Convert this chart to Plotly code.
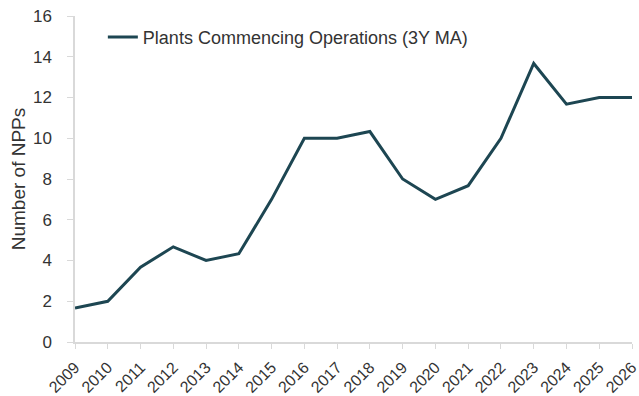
import plotly.graph_objects as go

years = list(range(2009, 2027))
plants_3y_ma = [1.67, 2.0, 3.67, 4.67, 4.0, 4.33, 7.0, 10.0, 10.0, 10.33,
                8.0, 7.0, 7.67, 10.0, 13.67, 11.67, 12.0, 12.0]
y_ticks = [0, 2, 4, 6, 8, 10, 12, 14, 16]

fig = go.Figure()
fig.add_trace(go.Scatter(
    x=years, y=plants_3y_ma, mode="lines",
    name="Plants Commencing Operations (3Y MA)",
    line=dict(color="#1d4652", width=3),
    cliponaxis=False,
))

font_family = "Liberation Sans, Arial, sans-serif"
fig.update_layout(
    width=639, height=396,
    margin=dict(l=75, r=7, t=16, b=54),
    paper_bgcolor="white", plot_bgcolor="white",
    font=dict(family=font_family, size=16, color="#333333"),
    showlegend=True,
    legend=dict(x=0.05, y=0.935, xanchor="left", yanchor="middle",
                bgcolor="rgba(0,0,0,0)", font=dict(size=18, color="#333333"),
                itemwidth=30),
    xaxis=dict(
        range=[2009, 2026], tickmode="array", tickvals=years,
        ticktext=[str(y) for y in years], tickangle=-45,
        ticklabeloverflow="allow", ticklabelstandoff=3, automargin=False,
        showgrid=False, zeroline=False, showline=True,
        linecolor="#d9d9d9", linewidth=1.5,
        ticks="outside", ticklen=5, tickcolor="#d9d9d9",
        tickfont=dict(size=16, color="#333333"),
    ),
    yaxis=dict(
        range=[0, 16], tickmode="array", tickvals=y_ticks,
        showgrid=False, zeroline=False, showline=True,
        linecolor="#d9d9d9", linewidth=1.5,
        ticks="outside", ticklen=6, tickcolor="#d9d9d9",
        ticklabelstandoff=12, automargin=False,
        tickfont=dict(size=17, color="#333333"),
        title=dict(text="Number of NPPs", font=dict(size=19, color="#333333"), standoff=2),
    ),
)

fig.write_html("out.html")
